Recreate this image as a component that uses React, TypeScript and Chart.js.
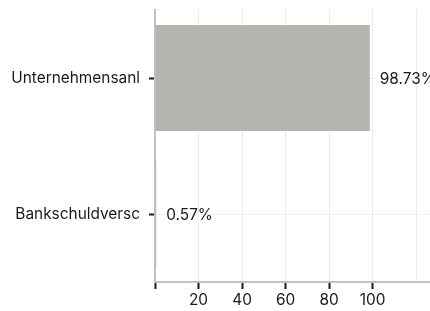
import React, { useEffect, useRef } from "react";
import { Chart, registerables } from "chart.js";

Chart.register(...registerables);

const categories = ["Unternehmensanl", "Bankschuldversc"];
const values = [98.73, 0.57];
const valueLabels = ["98.73%", "0.57%"];
const xTicks = [20, 40, 60, 80, 100];

const FONT = "Inter, 'Noto Sans', sans-serif";
const FS = 15.4;

const valueLabelPlugin = {
  id: "valueLabels",
  afterDatasetsDraw(chart: any) {
    const ctx = chart.ctx;
    const meta = chart.getDatasetMeta(0);
    ctx.save();
    ctx.font = `${FS}px ${FONT}`;
    ctx.fillStyle = "#1a1a1a";
    ctx.textAlign = "left";
    ctx.textBaseline = "middle";
    meta.data.forEach((el: any, i: number) => {
      ctx.fillText(valueLabels[i], el.x + 10, el.y + 1);
    });
    ctx.restore();
  },
};

export default function App() {
  const ref = useRef<HTMLCanvasElement | null>(null);
  useEffect(() => {
    if (!ref.current) return;
    const chart = new Chart(ref.current, {
      type: "bar",
      data: {
        labels: categories,
        datasets: [
          {
            data: values,
            backgroundColor: "#b5b4af",
            borderWidth: 0,
            barPercentage: 0.975,
            categoryPercentage: 0.8,
          },
        ],
      },
      plugins: [valueLabelPlugin],
      options: {
        indexAxis: "y",
        animation: false,
        responsive: false,
        maintainAspectRatio: false,
        layout: { padding: { left: 0, right: 0, top: 10, bottom: 0 } },
        plugins: { legend: { display: false }, tooltip: { enabled: false } },
        scales: {
          x: {
            min: 0,
            max: 126.4,
            afterBuildTicks(scale: any) {
              scale.ticks = [0, ...xTicks, 120].map((v) => ({ value: v }));
            },
            afterFit(scale: any) {
              scale.height = 29;
              scale.paddingLeft = 0;
              scale.paddingRight = 0;
            },
            ticks: {
              font: { family: FONT, size: FS },
              color: "#1a1a1a",
              padding: 2,
              maxRotation: 0,
              callback: (v: any) => (xTicks.includes(Number(v)) ? String(v) : ""),
            },
            grid: {
              color: "#ebebeb",
              lineWidth: 1,
              tickLength: 7,
              tickWidth: 2,
              tickColor: (c: any) =>
                c.tick && c.tick.value === 120 ? "rgba(0,0,0,0)" : "#1a1a1a",
            },
            border: { color: "#c2c2c2", width: 2 },
          },
          y: {
            afterFit(scale: any) {
              scale.width = 155;
              scale.paddingTop = 0;
              scale.paddingBottom = 0;
            },
            ticks: {
              font: { family: FONT, size: FS },
              color: "#1a1a1a",
              padding: 9,
            },
            grid: {
              offset: false,
              color: "#f0f0f0",
              lineWidth: 1,
              tickLength: 6,
              tickWidth: 2,
              tickColor: "#1a1a1a",
            },
            border: { color: "#c2c2c2", width: 2 },
          },
        },
      },
    });
    return () => chart.destroy();
  }, []);
  return (
    <div style={{ position: "absolute", left: 0, top: 0, width: 430, height: 311 }}>
      <canvas ref={ref} width={430} height={311} style={{ width: 430, height: 311 }} />
    </div>
  );
}
